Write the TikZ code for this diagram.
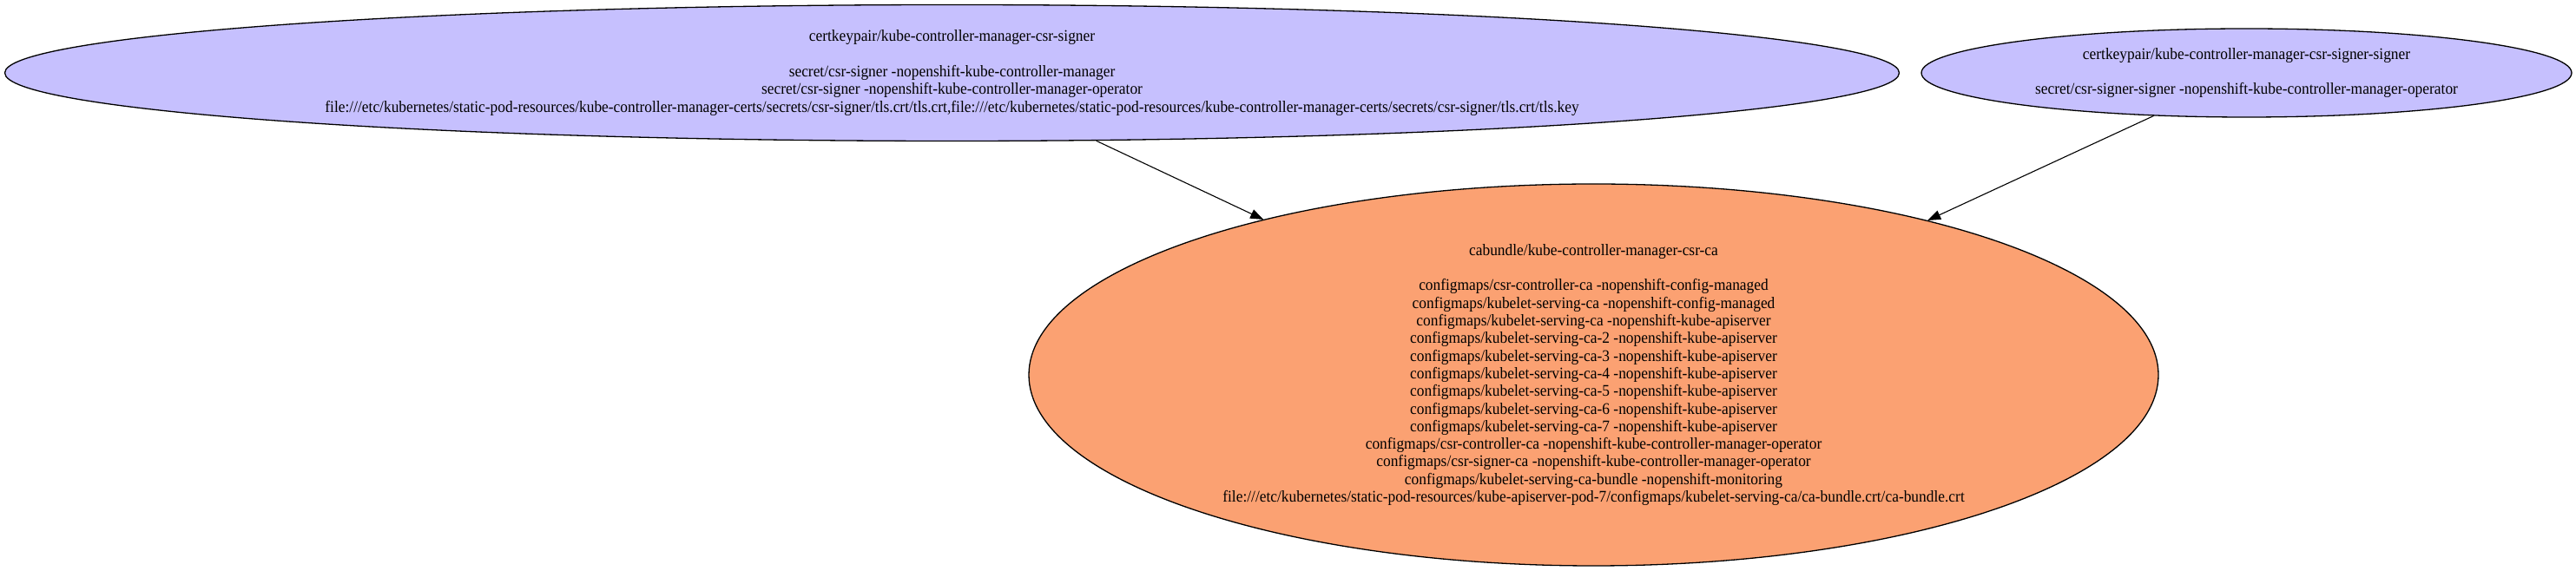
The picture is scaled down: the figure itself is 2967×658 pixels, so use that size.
\documentclass[tikz,border=0pt]{standalone}
\usepackage{fontspec}
\setmainfont{Liberation Serif}[FakeStretch=0.93]
\usetikzlibrary{shapes.geometric,arrows.meta}
\definecolor{lav}{RGB}{198,192,254}
\definecolor{salmon}{RGB}{251,161,114}
\begin{document}
\begin{tikzpicture}[x=1pt,y=1pt,
  blob/.style={ellipse,draw=black,line width=1.3pt,inner sep=0pt},
  label/.style={align=center,inner sep=0pt,font=\fontsize{18.7pt}{20.3pt}\selectfont},
  conn/.style={line width=1.1pt,-{Triangle[length=15pt,width=11pt]}}]
\useasboundingbox (0,0) rectangle (2967,658);
\node[blob,fill=lav,minimum width=2182pt,minimum height=157pt] (e1) at (1096.5,574) {};
\node[blob,fill=lav,minimum width=749pt,minimum height=102pt] (e2) at (2587.5,574) {};
\node[blob,fill=salmon,minimum width=1301pt,minimum height=440pt] (e3) at (1835.5,226) {};
\node[label] (t1) at (e1.center) {certkeypair/kube-controller-manager-csr-signer\\[20.3pt]
secret/csr-signer -nopenshift-kube-controller-manager\\
secret/csr-signer -nopenshift-kube-controller-manager-operator\\
file:///etc/kubernetes/static-pod-resources/kube-controller-manager-certs/secrets/csr-signer/tls.crt/tls.crt,file:///etc/kubernetes/static-pod-resources/kube-controller-manager-certs/secrets/csr-signer/tls.crt/tls.key};
\node[label] (t2) at (e2.center) {certkeypair/kube-controller-manager-csr-signer-signer\\[20.3pt]
secret/csr-signer-signer -nopenshift-kube-controller-manager-operator};
\node[label] (t3) at (e3.center) {cabundle/kube-controller-manager-csr-ca\\[20.3pt]
configmaps/csr-controller-ca -nopenshift-config-managed\\
configmaps/kubelet-serving-ca -nopenshift-config-managed\\
configmaps/kubelet-serving-ca -nopenshift-kube-apiserver\\
configmaps/kubelet-serving-ca-2 -nopenshift-kube-apiserver\\
configmaps/kubelet-serving-ca-3 -nopenshift-kube-apiserver\\
configmaps/kubelet-serving-ca-4 -nopenshift-kube-apiserver\\
configmaps/kubelet-serving-ca-5 -nopenshift-kube-apiserver\\
configmaps/kubelet-serving-ca-6 -nopenshift-kube-apiserver\\
configmaps/kubelet-serving-ca-7 -nopenshift-kube-apiserver\\
configmaps/csr-controller-ca -nopenshift-kube-controller-manager-operator\\
configmaps/csr-signer-ca -nopenshift-kube-controller-manager-operator\\
configmaps/kubelet-serving-ca-bundle -nopenshift-monitoring\\
file:///etc/kubernetes/static-pod-resources/kube-apiserver-pod-7/configmaps/kubelet-serving-ca/ca-bundle.crt/ca-bundle.crt};
\draw[conn] (e1) -- (e3);
\draw[conn] (e2) -- (e3);
\end{tikzpicture}
\end{document}
